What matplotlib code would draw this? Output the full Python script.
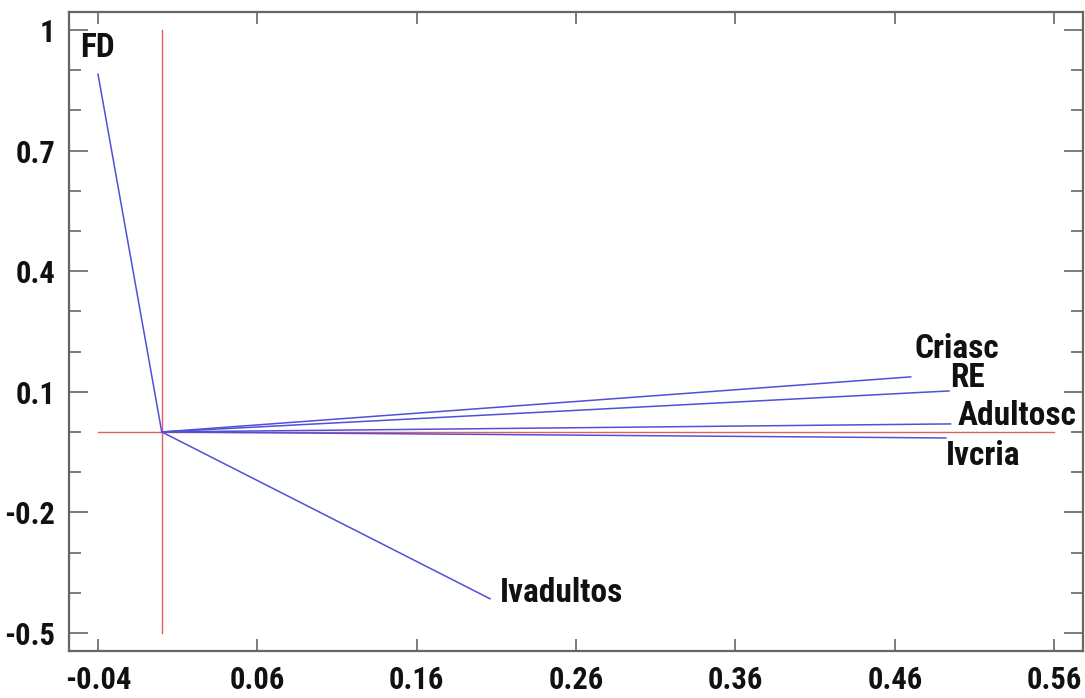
import matplotlib
matplotlib.use("Agg")
import matplotlib.pyplot as plt
from matplotlib import font_manager
import numpy as np

# Vetores do biplot (coordenadas das extremidades)
nomes = ["FD", "Criasc", "RE", "Adultosc", "Ivcria", "Ivadultos"]
eixo_x = [-0.04, 0.470, 0.494, 0.495, 0.492, 0.206]
eixo_y = [0.89, 0.137, 0.102, 0.020, -0.015, -0.415]

# deslocamento dos rótulos (pontos)
desloc = [(-13, 19), (3, 20), (1, 9), (5, 6), (0, -13), (7, 4)]

xticks = [-0.04, 0.06, 0.16, 0.26, 0.36, 0.46, 0.56]
yticks = [-0.5, -0.2, 0.1, 0.4, 0.7, 1.0]
ytick_labels = ["-0.5", "-0.2", "0.1", "0.4", "0.7", "1"]

# Procurar uma fonte estreita, se houver
fontes = font_manager.fontManager.ttflist
nomes_fontes = {f.name for f in fontes}
estreita = None
for candidata in ["Liberation Sans Narrow", "Roboto Condensed", "Open Sans Condensed"]:
    if candidata in nomes_fontes:
        estreita = (candidata, "normal")
        break
if estreita is None and any(f.name == "DejaVu Sans" and f.stretch == "condensed" for f in fontes):
    estreita = ("DejaVu Sans", "condensed")

if estreita:
    plt.rcParams["font.family"] = [estreita[0], "DejaVu Sans"]
    plt.rcParams["font.stretch"] = estreita[1]
    tam, tam_rot = 22, 24
else:
    plt.rcParams["font.family"] = ["Liberation Sans", "DejaVu Sans"]
    tam, tam_rot = 20, 20
plt.rcParams["font.weight"] = "bold"

fig = plt.figure(figsize=(10.85, 6.98), dpi=100)
ax = fig.add_axes([0.0636, 0.0673, 0.9344, 0.9157])

# Linhas de referência vermelhas
ax.plot([xticks[0], xticks[-1]], [0, 0], color="#e06060", lw=1.0, zorder=1)
ax.plot([0, 0], [yticks[0], yticks[-1]], color="#e06060", lw=1.0, zorder=1)

for nome, x, y, (dx, dy) in zip(nomes, eixo_x, eixo_y, desloc):
    ax.plot([0, x], [0, y], color="#5050d8", lw=1.1, zorder=2)
    ax.annotate(nome, (x, y), xytext=(dx, dy), textcoords="offset points",
                ha="left", va="center", fontsize=tam_rot, fontweight="bold",
                color="#111111")

ax.set_xlim(-0.0582, 0.578)
ax.set_ylim(-0.545, 1.045)
ax.set_xticks(xticks)
ax.set_xticklabels(["%.2f" % v for v in xticks])
ax.set_yticks(yticks)
ax.set_yticklabels(ytick_labels)
ax.set_yticks(np.arange(-0.5, 1.01, 0.1), minor=True)

for s in ax.spines.values():
    s.set_color("#666666")
    s.set_linewidth(1.6)

ax.tick_params(axis="both", which="major", direction="in", labelsize=tam,
               top=True, right=True, colors="#666666", labelcolor="#111111",
               width=1.2, pad=10)
ax.tick_params(axis="x", which="major", length=8.5)
ax.tick_params(axis="y", which="major", length=14)
ax.tick_params(axis="y", which="minor", direction="in", length=8.5,
               right=True, width=1.2, colors="#666666")

fig.savefig("out.png", dpi=100)
